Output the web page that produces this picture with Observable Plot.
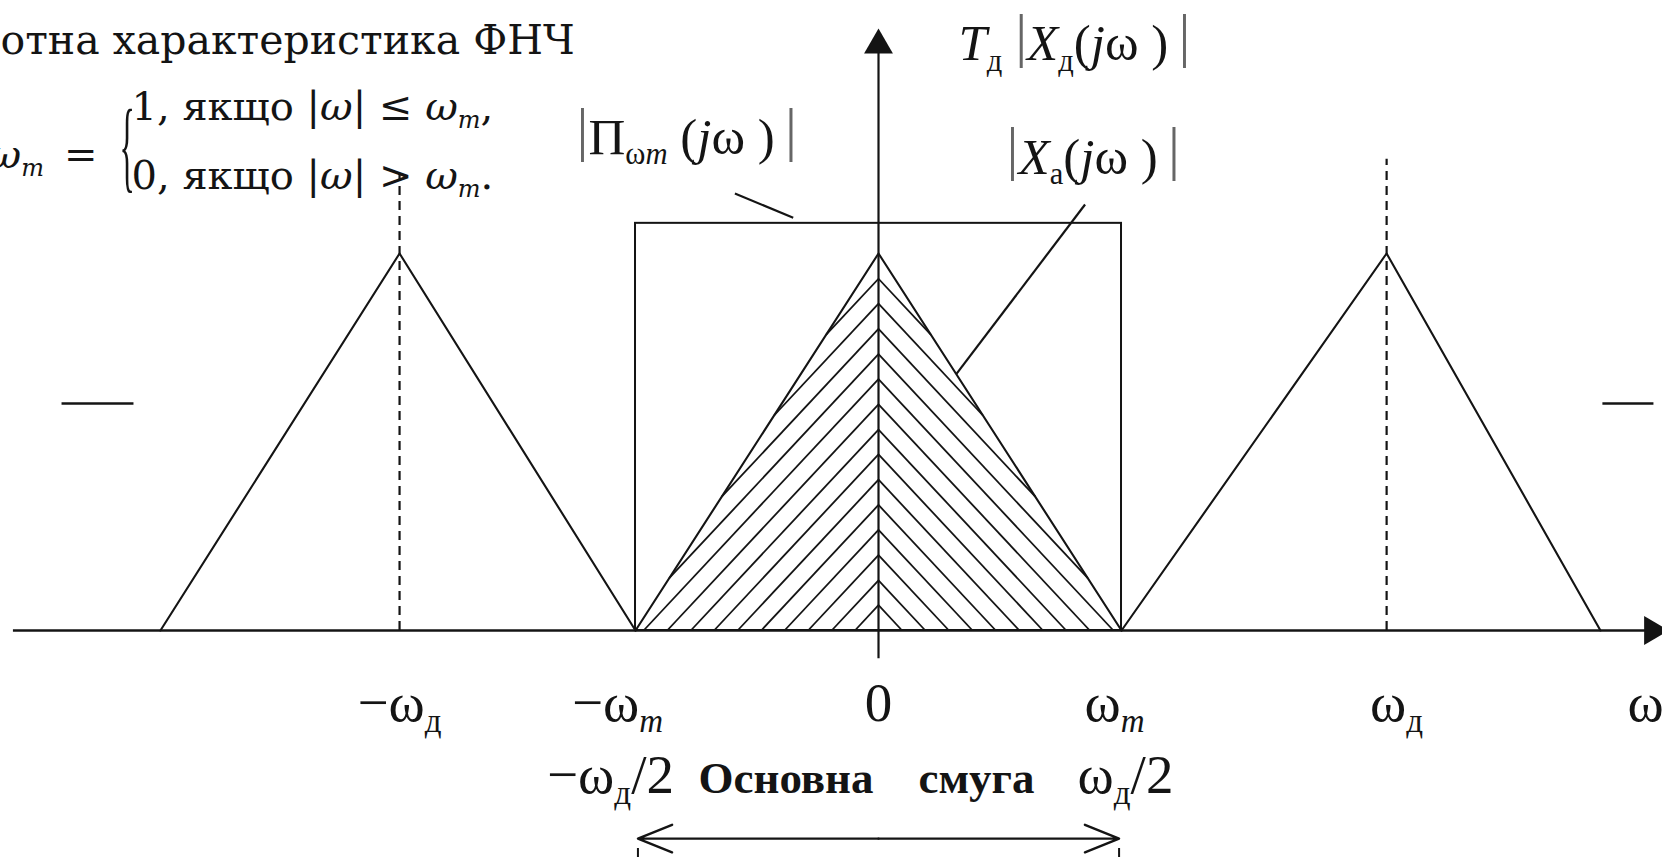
<!DOCTYPE html>
<html>
<head>
<meta charset="utf-8">
<script src="https://cdn.jsdelivr.net/npm/d3@7"></script>
<script src="https://cdn.jsdelivr.net/npm/@observablehq/plot@0.6"></script>
<style>
  html, body { margin: 0; padding: 0; background: #fff; overflow: hidden; }
  svg { display: block; overflow: hidden; }
</style>
</head>
<body>
<div id="chart"></div>
<script>
// Spectrum of a sampled signal: the baseband |Xа(jω)|, its images at ±ωд
// and the ideal low-pass window |Πωm(jω)|.
// Frequency w is in units of ωm, magnitude a is normalised to the spectrum peak.

const baseband = [
  {w: -1, a: 0}, {w: 0, a: 1}, {w: 1, a: 0}
];
const imageLeft = [
  {w: -2.955, a: 0}, {w: -1.971, a: 1}, {w: -1, a: 0}
];
const imageRight = [
  {w: 1, a: 0}, {w: 2.091, a: 1}, {w: 2.971, a: 0}
];
// ideal low-pass filter window
const lowPass = [{w1: -1, w2: 1, gain: 1.08}];
// sampling frequency ±ωд guides (and how high each dashed line rises)
const samplingFreqs = [{w: -1.971, top: 1.21}, {w: 2.091, top: 1.25}];
// heights where the hatch strokes of the baseband meet the ordinate
const hatchLevels = [0.067, 0.133, 0.2, 0.267, 0.333, 0.4, 0.467,
                     0.533, 0.6, 0.667, 0.733, 0.8, 0.867, 0.933];
const hatchSlope = 0.69;
// leader lines from the labels to the curves
const leaders = [
  {w1: -0.591, a1: 1.159, w2: -0.351, a2: 1.095},
  {w1: 0.85, a1: 1.13, w2: 0.32, a2: 0.68}
];
// short level marks at the sides
const sideMarks = [{w1: -3.362, w2: -3.066, a: 0.602}, {w1: 2.979, w2: 3.189, a: 0.602}];

// tick labels under the frequency axis (markup: _{} subscript, *..* italic, #{} tall bar)
const tickLabels = [
  {w: -1.971, label: "−ω_{д}"},
  {w: -1, label: "−ω_{*m*}"},
  {w: 0, label: "0"},
  {w: 1, label: "ω_{*m*}"},
  {w: 2.091, label: "ω_{д}"}
];
const bandEdgeLabels = [
  {w: -1, label: "−ω_{д}/2"},
  {w: 1, label: "ω_{д}/2"}
];
const bandTitle = "Основна\u2002\u2002смуга";
const axisTitle = "ω";
const curveLabels = [
  {w: -1.243, a: 1.265, label: "#{|}Π_{ω*m*} (*j*ω )\u2009#{|}"},
  {w: 0.329, a: 1.512, label: "*T*_{д} #{|}*X*_{д}(*j*ω )\u2009#{|}"},
  {w: 0.527, a: 1.212, label: "#{|}*X*_{а}(*j*ω )\u2009#{|}"}
];
const heading = "отна характеристика ФНЧ";
const formulaLines = [
  {a: 1.353, label: "1, якщо |*ω*| ≤ *ω*_{*m*},"},
  {a: 1.170, label: "0, якщо |*ω*| > *ω*_{*m*}."}
];
const formulaLead = "*ω*_{*m*}\u2002=";

// hatch strokes of the baseband triangle, herringbone about the ordinate
const hatch = hatchLevels.flatMap(h => {
  const run = Math.min(h / hatchSlope, (1 - h) / (1 - hatchSlope));
  const a = h - hatchSlope * run;
  return [{w1: 0, a1: h, w2: -run, a2: a}, {w1: 0, a1: h, w2: run, a2: a}];
});

const ink = "#141414";
const serif = "Liberation Serif";
const mathSerif = "DejaVu Serif";
const tickY = -0.239, bandY = -0.432, arrowY = -0.552;
const tickNudge = [0, -18, 0, -7, 10];
const bandNudge = [-25, 4];
const bandEdges = lowPass.flatMap(d => [d.w1 * 0.99, d.w2 * 0.99]);

const plot = Plot.plot({
  width: 1662,
  height: 862,
  margin: 0,
  x: {domain: [-3.6132, 3.2263], axis: null},
  y: {domain: [-0.6154, 1.6711], axis: null},
  marks: [
    // axes
    Plot.ruleY([0], {x1: -3.56, x2: 3.17, stroke: ink, strokeWidth: 2.4}),
    Plot.ruleX([0], {y1: -0.075, y2: 1.56, stroke: ink, strokeWidth: 2.2}),
    Plot.dot([{w: 3.185, a: 0}], {x: "w", y: "a", symbol: "triangle", r: 10.7, rotate: 90, fill: ink}),
    Plot.dot([{w: 0, a: 1.5526}], {x: "w", y: "a", symbol: "triangle", r: 10.7, fill: ink}),

    // sampling frequency guides
    Plot.ruleX(samplingFreqs, {x: "w", y1: 0, y2: "top", stroke: ink, strokeWidth: 2.2, strokeDasharray: "9,6"}),

    // low-pass window
    Plot.rect(lowPass, {x1: "w1", x2: "w2", y1: 0, y2: "gain", fill: "none", stroke: ink, strokeWidth: 2}),

    // spectra
    Plot.link(hatch, {x1: "w1", y1: "a1", x2: "w2", y2: "a2", stroke: ink, strokeWidth: 1.8}),
    Plot.line(baseband, {x: "w", y: "a", stroke: ink, strokeWidth: 2.1}),
    Plot.line(imageLeft, {x: "w", y: "a", stroke: ink, strokeWidth: 2.1}),
    Plot.line(imageRight, {x: "w", y: "a", stroke: ink, strokeWidth: 2.1}),

    // leaders and side marks
    Plot.link(leaders, {x1: "w1", y1: "a1", x2: "w2", y2: "a2", stroke: ink, strokeWidth: 2.2}),
    Plot.link(sideMarks, {x1: "w1", x2: "w2", y1: "a", y2: "a", stroke: ink, strokeWidth: 2.4}),

    // base band arrow and its edge guides
    Plot.arrow(bandEdges, {
      x1: 0, y1: arrowY, x2: d => d, y2: arrowY,
      stroke: ink, strokeWidth: 2.4, headAngle: 44, headLength: 23
    }),
    Plot.ruleX(bandEdges, {
      x: d => d, y1: -0.578, y2: -0.64, stroke: ink, strokeWidth: 2, strokeDasharray: "9,6"
    }),

    // tick labels
    ...tickLabels.map((t, i) => Plot.text([t], {
      x: "w", y: tickY, text: "label", dx: tickNudge[i], textAnchor: "middle", lineAnchor: "bottom",
      fontFamily: serif, fontSize: 55, fill: ink
    })),
    ...bandEdgeLabels.map((t, i) => Plot.text([t], {
      x: "w", y: bandY, text: "label", dx: bandNudge[i], textAnchor: "middle", lineAnchor: "bottom",
      fontFamily: serif, fontSize: 55, fill: ink
    })),
    Plot.text([bandTitle], {
      x: 0, y: bandY, text: d => d, dx: -12, textAnchor: "middle", lineAnchor: "bottom",
      fontFamily: serif, fontWeight: "bold", fontSize: 45, fill: ink
    }),
    Plot.text([axisTitle], {
      x: 3.082, y: tickY, text: d => d, textAnchor: "start", lineAnchor: "bottom",
      fontFamily: serif, fontSize: 55, fill: ink
    }),

    // curve labels
    Plot.text(curveLabels, {
      x: "w", y: "a", text: "label", textAnchor: "start", lineAnchor: "bottom",
      fontFamily: serif, fontSize: 51, fill: ink
    }),

    // heading and filter definition
    Plot.text([heading], {
      x: -3.6132, y: 1.528, text: d => d, textAnchor: "start", lineAnchor: "bottom",
      fontFamily: mathSerif, fontSize: 41, fill: ink
    }),
    Plot.text(formulaLines, {
      x: -3.0741, y: "a", text: "label", textAnchor: "start", lineAnchor: "bottom",
      fontFamily: mathSerif, fontSize: 40, fill: ink
    }),
    Plot.text([formulaLead], {
      x: -3.214, y: 1.2255, text: d => d, textAnchor: "end", lineAnchor: "bottom",
      fontFamily: mathSerif, fontSize: 40, fill: ink
    }),
    Plot.text(["{"], {
      x: -3.1235, y: 1.2865, text: d => d, textAnchor: "start", lineAnchor: "middle",
      fontFamily: serif, fontSize: 40, fill: ink
    })
  ]
});

document.getElementById("chart").append(plot);

// Light typesetting for the math labels: _{..} subscript, *..* italic, #{..} tall bar.
function parseRuns(src) {
  const runs = [];
  let italic = false, mode = "base", buf = "";
  const flush = () => { if (buf) runs.push({text: buf, italic, mode}); buf = ""; };
  for (let i = 0; i < src.length; i++) {
    const c = src[i];
    if ((c === "_" || c === "#") && src[i + 1] === "{") { flush(); mode = c === "_" ? "sub" : "tall"; i++; continue; }
    if (c === "}" && mode !== "base") { flush(); mode = "base"; continue; }
    if (c === "*") { flush(); italic = !italic; continue; }
    buf += c;
  }
  flush();
  return runs;
}

function typeset(svg) {
  const ns = "http://www.w3.org/2000/svg";
  for (const el of svg.querySelectorAll("text")) {
    const src = el.textContent;
    if (!/[_#]\{|\*/.test(src)) continue;
    const size = parseFloat(getComputedStyle(el).fontSize);
    el.textContent = "";
    let level = 0;
    for (const run of parseRuns(src)) {
      const t = document.createElementNS(ns, "tspan");
      const target = run.mode === "sub" ? 0.2 * size : run.mode === "tall" ? -0.1 * size : 0;
      if (target !== level) t.setAttribute("dy", target - level);
      level = target;
      if (run.mode === "sub") t.setAttribute("font-size", 0.6 * size);
      if (run.mode === "tall") { t.setAttribute("font-size", 1.17 * size); t.setAttribute("fill", "#666"); }
      if (run.italic) t.setAttribute("font-style", "italic");
      t.textContent = run.text;
      el.append(t);
    }
  }
}
typeset(plot);

// stretch the brace of the piecewise definition so it spans both cases
const yScale = plot.scale("y");
const braceSpan = yScale.apply(1.138) - yScale.apply(1.438);
for (const el of plot.querySelectorAll("text")) {
  if (el.textContent !== "{") continue;
  const b = el.getBBox();
  const cx = b.x, cy = b.y + b.height / 2;
  const sy = braceSpan / b.height;
  const prev = el.getAttribute("transform") || "";
  el.setAttribute("transform", `${prev} translate(${cx},${cy}) scale(0.8,${sy}) translate(${-cx},${-cy})`);
}
</script>
</body>
</html>
